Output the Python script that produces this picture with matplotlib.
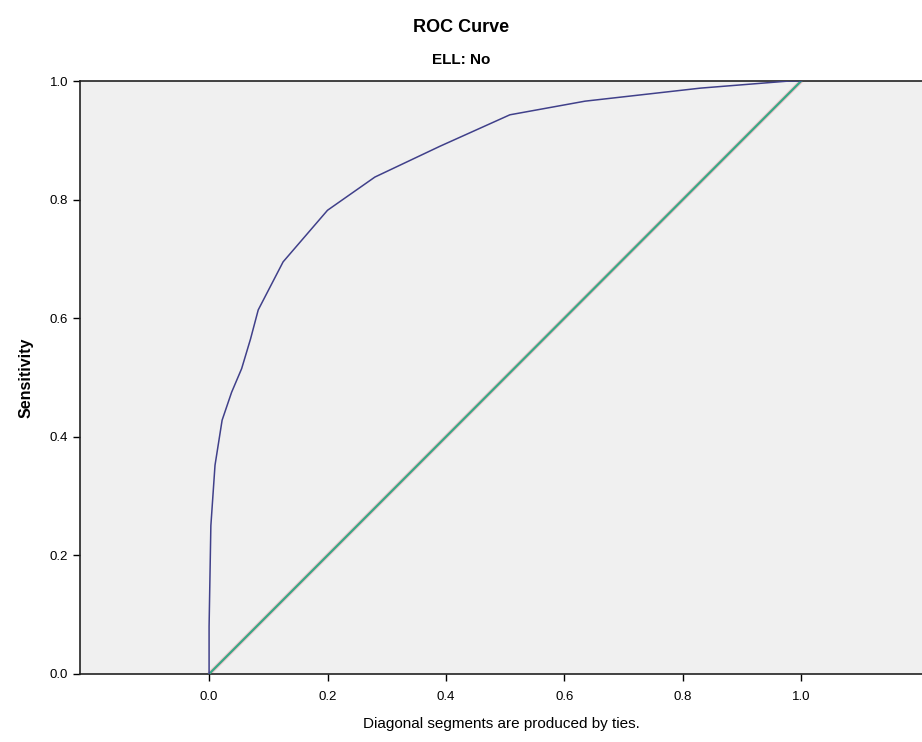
import matplotlib
matplotlib.use("Agg")
import matplotlib.pyplot as plt

plt.rcParams['font.family'] = ['Liberation Sans', 'DejaVu Sans']

# ROC curve points (1 - specificity, sensitivity)
fpr = [0.0, 0.0, 0.003, 0.01, 0.022, 0.038, 0.055, 0.07, 0.083, 0.125, 0.2,
       0.28, 0.39, 0.508, 0.635, 0.83, 0.98, 1.0]
tpr = [0.0, 0.08, 0.25, 0.352, 0.428, 0.475, 0.515, 0.565, 0.614, 0.695, 0.782,
       0.838, 0.89, 0.943, 0.966, 0.988, 1.0, 1.0]
ref_line = [0.0, 1.0]
ticks = [0.0, 0.2, 0.4, 0.6, 0.8, 1.0]

fig = plt.figure(figsize=(9.22, 7.42), dpi=100)
ax = fig.add_axes([80 / 922, 1 - 674 / 742, 1 - 80 / 922, (674 - 81) / 742])
ax.set_facecolor('#f0f0f0')

ax.plot(ref_line, ref_line, color='#f2c4cc', lw=3.0, zorder=2)
ax.plot(ref_line, ref_line, color='#3aa886', lw=1.6, zorder=3)
ax.plot(fpr, tpr, color='#40408a', lw=1.1, zorder=4)

ax.set_xlim(-0.218, 1.204)
ax.set_ylim(0.0, 1.0)
ax.set_xticks(ticks)
ax.set_yticks(ticks)
ax.set_xticklabels([f'{t:.1f}' for t in ticks])
ax.set_yticklabels([f'{t:.1f}' for t in ticks])
ax.tick_params(direction='out', length=5, width=1, labelsize=9.5, colors='black')
ax.tick_params(axis='x', pad=7)

for side in ['left', 'bottom', 'top']:
    ax.spines[side].set_color('#222222')
    ax.spines[side].set_linewidth(1.2)
ax.spines['right'].set_visible(False)

ax.set_ylabel('Sensitivity', fontsize=11.5, fontweight='bold', labelpad=12)
ax.set_xlabel('Diagonal segments are produced by ties.', fontsize=11, labelpad=10)

fig.text(0.5, 1 - 28 / 742, 'ROC Curve', ha='center', va='center',
         fontsize=13, fontweight='bold')
fig.text(0.5, 1 - 60 / 742, 'ELL: No', ha='center', va='center',
         fontsize=11, fontweight='bold')

fig.savefig('out.png', dpi=100)
